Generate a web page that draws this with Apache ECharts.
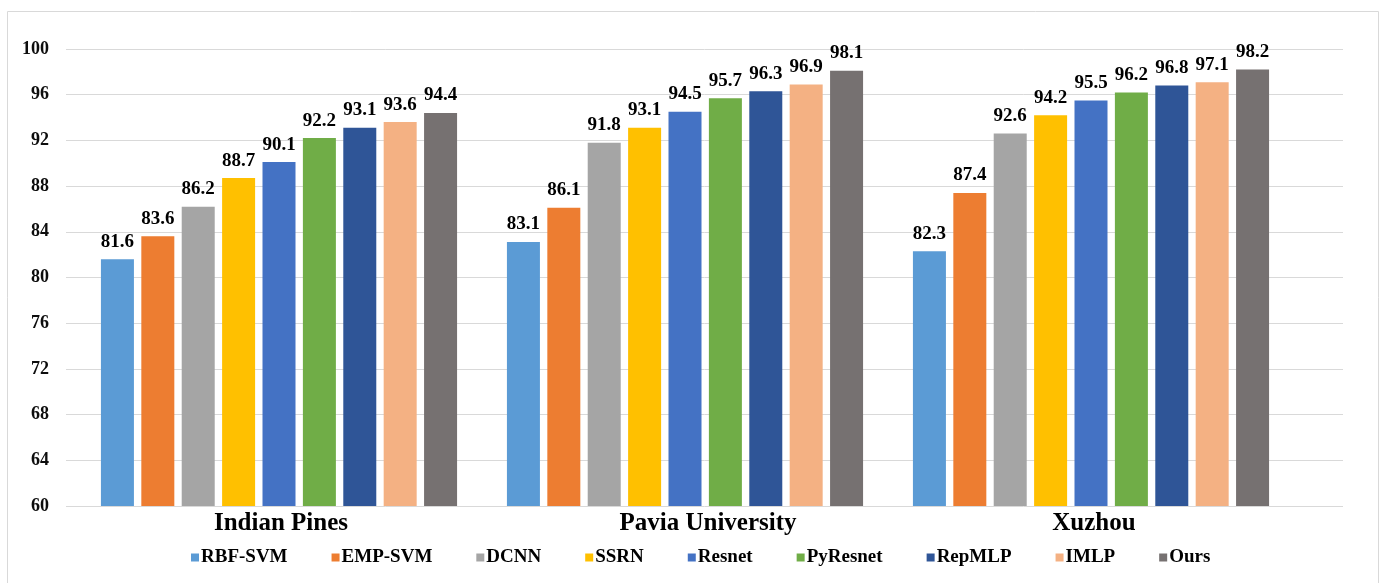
<!DOCTYPE html>
<html>
<head>
<meta charset="utf-8">
<script src="https://cdn.jsdelivr.net/npm/echarts@6/dist/echarts.min.js"></script>
<style>
  html, body { margin: 0; padding: 0; background: #fff; }
  #chart { width: 1382px; height: 583px; }
</style>
</head>
<body>
<div id="chart"></div>
<script>
// Overall accuracy (%) per dataset for each method
const datasets = ['Indian Pines', 'Pavia University', 'Xuzhou'];
const methods = ['RBF-SVM', 'EMP-SVM', 'DCNN', 'SSRN', 'Resnet', 'PyResnet', 'RepMLP', 'IMLP', 'Ours'];
const rbfSvm   = [81.6, 83.1, 82.3];
const empSvm   = [83.6, 86.1, 87.4];
const dcnn     = [86.2, 91.8, 92.6];
const ssrn     = [88.7, 93.1, 94.2];
const resnet   = [90.1, 94.5, 95.5];
const pyResnet = [92.2, 95.7, 96.2];
const repMlp   = [93.1, 96.3, 96.8];
const imlp     = [93.6, 96.9, 97.1];
const ours     = [94.4, 98.1, 98.2];
const yTicks = [60, 64, 68, 72, 76, 80, 84, 88, 92, 96, 100];

const seriesValues = [rbfSvm, empSvm, dcnn, ssrn, resnet, pyResnet, repMlp, imlp, ours];
const colors = ['#5B9BD5', '#ED7D31', '#A5A5A5', '#FFC000', '#4472C4', '#70AD47', '#2F5597', '#F4B183', '#767171'];
const serif = '"Liberation Serif", "DejaVu Serif", serif';

// small horizontal nudges (px) for the category captions
const captionShift = { 'Indian Pines': 2, 'Pavia University': 23, 'Xuzhou': 3 };
const captionRich = {};
datasets.forEach((d, i) => {
  captionRich['c' + i] = {
    fontFamily: serif, fontWeight: 'bold', fontSize: 25, color: '#000',
    padding: [0, 0, 0, 2 * captionShift[d]]
  };
});

const yScale = {
  type: 'value',
  min: yTicks[0],
  max: yTicks[yTicks.length - 1],
  interval: yTicks[1] - yTicks[0]
};

const chart = echarts.init(document.getElementById('chart'), null, { renderer: 'canvas' });
chart.setOption({
  animation: false,
  color: colors,
  graphic: [{
    type: 'rect',
    shape: { x: 7.5, y: 11.5, width: 1371, height: 600 },
    style: { fill: 'none', stroke: '#d9d9d9', lineWidth: 1 },
    silent: true
  }],
  grid: [
    // value axis labels and gridlines
    { left: 66, right: 39, top: 49, bottom: 77 },
    // bar clusters
    { left: 76, right: 88, top: 49, bottom: 77 }
  ],
  legend: {
    top: 543,
    left: 186,
    itemWidth: 8,
    itemHeight: 8,
    itemGap: 44,
    icon: 'rect',
    textStyle: { fontFamily: serif, fontWeight: 'bold', fontSize: 19, color: '#000', padding: [0, 0, 0, -3] },
    data: methods
  },
  xAxis: [
    {
      gridIndex: 0,
      type: 'category',
      data: datasets,
      show: false
    },
    {
      gridIndex: 1,
      type: 'category',
      data: datasets,
      axisLine: { show: false },
      axisTick: { show: false },
      axisLabel: {
        margin: 5,
        formatter: (v) => '{c' + datasets.indexOf(v) + '|' + v + '}',
        rich: captionRich
      }
    }
  ],
  yAxis: [
    Object.assign({}, yScale, {
      gridIndex: 0,
      axisLine: { show: false },
      axisTick: { show: false },
      splitLine: { lineStyle: { color: '#d9d9d9', width: 1 } },
      axisLabel: { fontFamily: serif, fontWeight: 'bold', fontSize: 18, color: '#0d0d0d', margin: 17 }
    }),
    Object.assign({}, yScale, {
      gridIndex: 1,
      show: false,
      splitLine: { show: false }
    })
  ],
  series: methods.map((name, i) => ({
    name: name,
    type: 'bar',
    xAxisIndex: 1,
    yAxisIndex: 1,
    data: seriesValues[i],
    barWidth: 33,
    barGap: '22.4%',
    itemStyle: { color: colors[i] },
    label: {
      show: true,
      position: 'top',
      distance: 8,
      fontFamily: serif,
      fontWeight: 'bold',
      fontSize: 19,
      color: '#000'
    }
  }))
});
</script>
</body>
</html>
